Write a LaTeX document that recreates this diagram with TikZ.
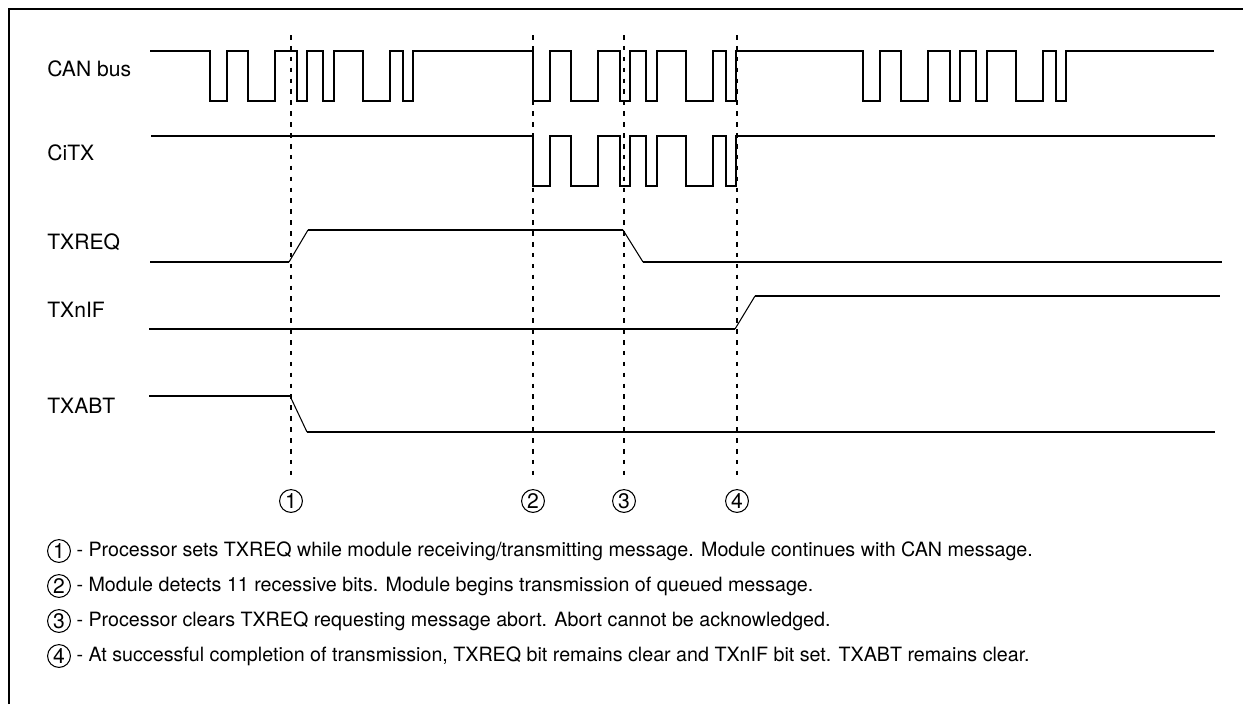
\documentclass[tikz,border=0pt]{standalone}
\usepackage{fontspec}
\setmainfont{TeX Gyre Heros}
\usetikzlibrary{positioning}

\begin{document}
\begin{tikzpicture}[
  x=0.02cm, y=-0.02cm,
  every node/.style={font=\fontsize{12}{14}\selectfont},
  siglabel/.style={anchor=west, inner sep=0pt},
  sig/.style={line width=1.3pt, line join=miter},
  slope/.style={line width=0.6pt},
  marker/.style={dash pattern=on 2.6pt off 3.6pt, line width=1.3pt},
  numcirc/.style={draw, circle, line width=0.6pt, inner sep=0pt, minimum size=13pt,
    font=\fontsize{12}{12}\selectfont},
  legtext/.style={anchor=west, inner sep=0pt, font=\fontsize{11.2}{13}\selectfont},
]
\useasboundingbox (0,0) rectangle (1243,704);

% frame
\draw[line width=1.4pt] (9,704) -- (9,9) -- (1243,9);

% signal names
\node[siglabel] (can)   at (47,69)  {CAN bus};
\node[siglabel] (citx)  at (47,153) {CiTX};
\node[siglabel] (txreq) at (47,242) {TXREQ};
\node[siglabel] (txnif) at (47,310) {TXnIF};
\node[siglabel] (txabt) at (47,406) {TXABT};

% CAN bus: three frames
\draw[sig] (150,51) \foreach \s in {210,533,863} {
    \foreach \a/\b in {0/17,38/65,87/97,113/124,153/180,193/203} {
      -- (\s+\a,51) -- (\s+\a,101) -- (\s+\b,101) -- (\s+\b,51) } } -- (1214,51);

% CiTX: own frame only
\draw[sig] (151,136) \foreach \a/\b in {0/17,38/65,87/97,113/124,153/180,193/203} {
      -- (533+\a,136) -- (533+\a,186) -- (533+\b,186) -- (533+\b,136) } -- (1215,136);

% TXREQ
\draw[sig] (150,262) -- (289,262);
\draw[slope] (289,262) -- (308,230);
\draw[sig] (308,230) -- (623,230);
\draw[slope] (623,230) -- (643,262);
\draw[sig] (643,262) -- (1222,262);

% TXnIF
\draw[sig] (149,329) -- (735,329);
\draw[slope] (735,329) -- (755,296);
\draw[sig] (755,296) -- (1220,296);

% TXABT
\draw[sig] (149,396) -- (290,396);
\draw[slope] (290,396) -- (307,432);
\draw[sig] (307,432) -- (1215,432);

% event markers
\node[numcirc] (m1) at (291,501) {1};
\node[numcirc] (m2) at (533,501) {2};
\node[numcirc] (m3) at (624,501) {3};
\node[numcirc] (m4) at (737,501) {4};
\foreach \m/\x in {m1/291,m2/533,m3/624,m4/737}
  \draw[marker, shorten >=6pt] (\x,35) -- (\m.north);

% legend
\node[numcirc] (k1) at (59,551) {1};
\node[legtext, right=3pt of k1] (t1) {- Processor sets TXREQ while module receiving/transmitting message. Module continues with CAN message.};
\node[numcirc] (k2) at (59,586) {2};
\node[legtext, right=3pt of k2] (t2) {- Module detects 11 recessive bits. Module begins transmission of queued message.};
\node[numcirc] (k3) at (59,621) {3};
\node[legtext, right=3pt of k3] (t3) {- Processor clears TXREQ requesting message abort. Abort cannot be acknowledged.};
\node[numcirc] (k4) at (59,656) {4};
\node[legtext, right=3pt of k4] (t4) {- At successful completion of transmission, TXREQ bit remains clear and TXnIF bit set. TXABT remains clear.};

\end{tikzpicture}
\end{document}
